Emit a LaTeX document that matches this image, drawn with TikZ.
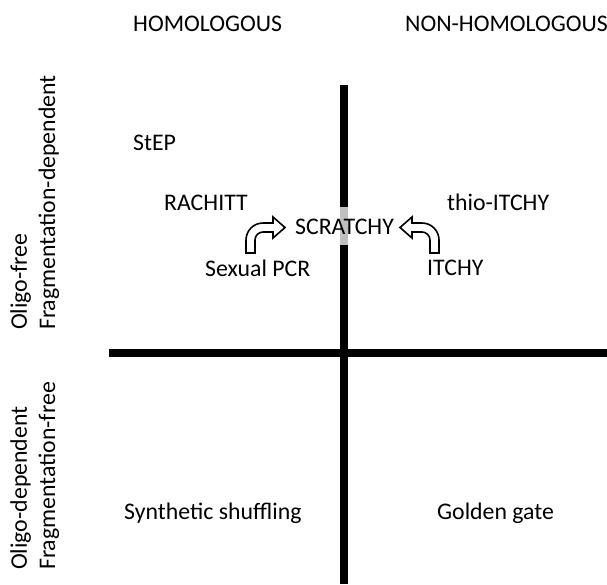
\documentclass[tikz,border=0pt]{standalone}
\usepackage{fontspec}
\setmainfont{Carlito}
\begin{document}
\begin{tikzpicture}[x=1pt,y=-1pt,
  lbl/.style={inner sep=0pt,anchor=base west,font=\fontsize{23.8}{28}\selectfont},
  axis/.style={line width=8pt},
  bentarrow/.style={draw=black,line width=1.6pt,fill=white,line join=miter}]
\useasboundingbox (0,0) rectangle (607,584);

% quadrant axes
\draw[axis] (109,353) -- (607,353);
\draw[axis] (344,85) -- (344,584);

% column headings
\node[lbl] (hom) at (133,31) {HOMOLOGOUS};
\node[lbl] (nonhom) at (405,31) {NON-HOMOLOGOUS};

% row headings
\node[lbl,rotate=90] (ofree) at (27,330) {Oligo-free};
\node[lbl,rotate=90] (fdep) at (55,330) {Fragmentation-dependent};
\node[lbl,rotate=90] (odep) at (27,570) {Oligo-dependent};
\node[lbl,rotate=90] (ffree) at (55,570) {Fragmentation-free};

% methods
\node[lbl] (step) at (133,150) {StEP};
\node[lbl] (rachitt) at (164,210) {RACHITT};
\node[lbl] (sexpcr) at (205,276) {Sexual PCR};
\node[lbl] (thio) at (447,210) {thio-ITCHY};
\node[lbl] (itchy) at (427,275) {ITCHY};
\node[lbl] (synth) at (124,519) {Synthetic shuffling};
\node[lbl] (golden) at (437,519) {Golden gate};

% translucent box behind SCRATCHY
\fill[white,fill opacity=0.75] (292,207) rectangle (397,245);
\node[lbl] (scratchy) at (295,234) {SCRATCHY};

% bent arrows pointing at SCRATCHY
\draw[bentarrow] (246,253) -- (246,240) arc[start angle=180,end angle=270,radius=17]
  -- (273,223) -- (273,217) -- (285,227.5) -- (273,238) -- (273,232) -- (263,232)
  arc[start angle=270,end angle=180,radius=8] -- (255,253) -- cycle;
\draw[bentarrow] (439,253) -- (439,240) arc[start angle=0,end angle=-90,radius=17]
  -- (412,223) -- (412,217) -- (400,227.5) -- (412,238) -- (412,232) -- (422,232)
  arc[start angle=-90,end angle=0,radius=8] -- (430,253) -- cycle;
\end{tikzpicture}
\end{document}
